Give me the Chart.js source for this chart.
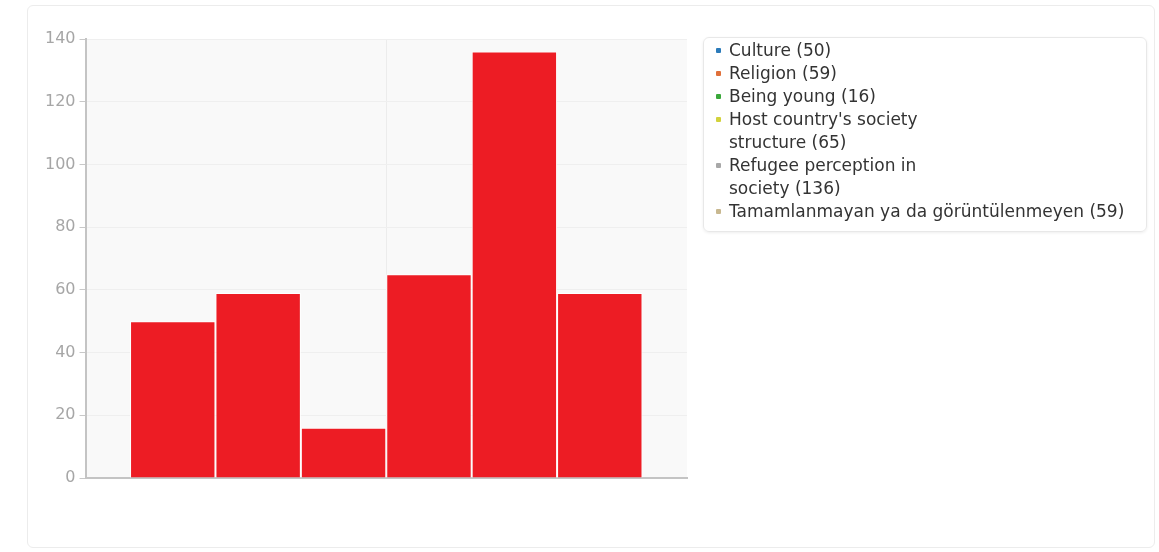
<!DOCTYPE html>
<html lang="en">
<head>
    <meta charset="UTF-8">
    <title>Refugee survey</title>
    <style>
        body { margin: 0; background: #fff; font-family: "DejaVu Sans", sans-serif; }
        #card { position: absolute; left: 27px; top: 5px; width: 1126px; height: 541px;
                border: 1px solid #ececec; border-radius: 6px; }
        #wrap { position: absolute; left: 0; top: 0; width: 701px; height: 552px; }
        #legend { position: absolute; left: 703px; top: 37px; width: 442px; height: 193px;
                  border: 1px solid #e8e8e8; border-radius: 6px; box-shadow: 0 1px 3px rgba(0,0,0,0.07);
                  font-size: 17px; color: #333; }
        #legend ul { list-style: none; margin: 0; padding: 1px 0 0 0; }
        #legend li { position: relative; padding-left: 25px; line-height: 23px; }
        #legend li span.box { position: absolute; left: 12px; top: 9px; width: 5px; height: 5px; border-radius: 1px; }
    </style>
</head>
<body>
    <div id="card"></div>
    <div id="wrap"><canvas id="myChart"></canvas></div>
    <div id="legend"></div>

    <script src="https://cdn.jsdelivr.net/npm/chart.js@4.4.0/dist/chart.umd.min.js"></script>
    <script>
    // answers and counts
    const answers = ["Culture", "Religion", "Being young", "Host country's society structure",
                     "Refugee perception in society", "Tamamlanmayan ya da görüntülenmeyen"];
    const legendLines = [["Culture"], ["Religion"], ["Being young"], ["Host country's society", "structure"],
                         ["Refugee perception in", "society"], ["Tamamlanmayan ya da görüntülenmeyen"]];
    const counts = [50, 59, 16, 65, 136, 59];
    const seriesColors = ['#2b7bba', '#e0703a', '#3aa83a', '#d2d23c', '#a8a8a8', '#c8b890'];
    const yTicks = [0, 20, 40, 60, 80, 100, 120, 140];

    const plotBg = {
        id: 'plotBg',
        beforeDraw(chart) {
            const a = chart.chartArea, c = chart.ctx;
            c.save();
            c.fillStyle = '#f9f9f9';
            c.fillRect(a.left, a.top, a.right - a.left, a.bottom - a.top);
            c.restore();
        }
    };

    var ctx = document.getElementById('myChart').getContext('2d');
    var chart = new Chart(ctx, {
        type: 'bar',
        data: {
            labels: [''],
            datasets: answers.map((a, i) => ({
                label: a + ' (' + counts[i] + ')',
                data: [counts[i]],
                backgroundColor: '#ed1c24',
                borderColor: '#ffffff',
                borderWidth: {top: 1, left: 1, right: 1, bottom: 0},
                borderSkipped: 'bottom'
            }))
        },
        options: {
            responsive: true,
            maintainAspectRatio: false,
            animation: false,
            layout: { padding: { left: 41, right: 14, top: 39, bottom: 74 } },
            plugins: { legend: { display: false }, tooltip: { enabled: false } },
            datasets: { bar: { categoryPercentage: 0.852, barPercentage: 1.0 } },
            scales: {
                x: {
                    ticks: { display: false },
                    grid: { offset: false, color: '#ececec', drawTicks: false },
                    border: { color: '#c4c4c4', width: 2 }
                },
                y: {
                    min: 0, max: 140,
                    afterBuildTicks: (s) => { s.ticks = yTicks.map(v => ({ value: v })); },
                    ticks: { color: '#a6a6a6', font: { family: 'DejaVu Sans', size: 16 }, padding: 4 },
                    grid: { color: '#efefef', tickLength: 6, tickColor: '#c8c8c8' },
                    border: { color: '#c4c4c4', width: 2 }
                }
            }
        },
        plugins: [plotBg]
    });

    // legend built from the same arrays
    const ul = document.createElement('ul');
    legendLines.forEach((lines, i) => {
        const li = document.createElement('li');
        const box = document.createElement('span');
        box.className = 'box';
        box.style.background = seriesColors[i];
        li.appendChild(box);
        lines.forEach((t, j) => {
            if (j > 0) li.appendChild(document.createElement('br'));
            li.appendChild(document.createTextNode(j === lines.length - 1 ? t + ' (' + counts[i] + ')' : t));
        });
        ul.appendChild(li);
    });
    document.getElementById('legend').appendChild(ul);
    </script>
</body>
</html>
